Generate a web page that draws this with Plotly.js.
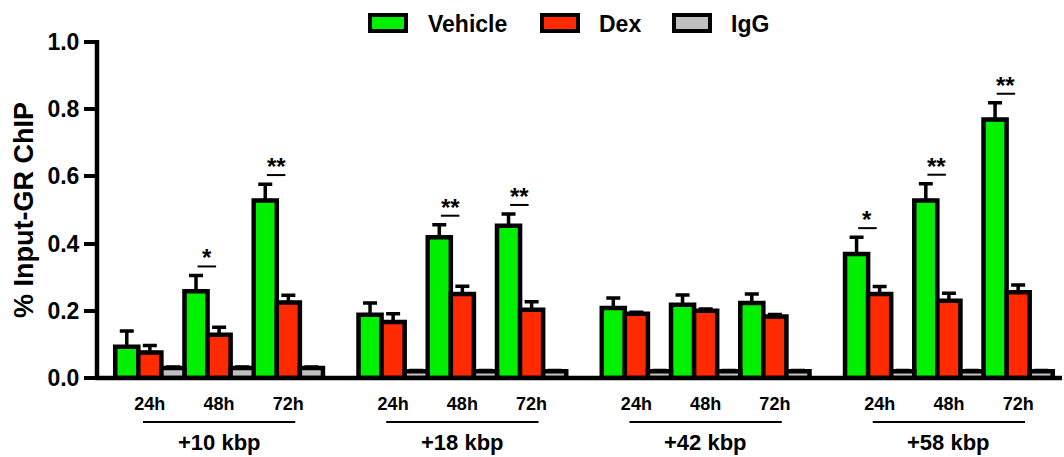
<!DOCTYPE html>
<html>
<head>
<meta charset="utf-8">
<script src="https://cdn.plot.ly/plotly-3.0.1.min.js"></script>
<style>html,body{margin:0;padding:0;background:#fff;}#chart{width:1064px;height:457px;}</style>
</head>
<body>
<div id="chart"></div>
<script>
// ---- data ----
const regions = ['+10 kbp', '+18 kbp', '+42 kbp', '+58 kbp'];
const times = ['24h', '48h', '72h'];
const seriesNames = ['Vehicle', 'Dex', 'IgG'];
const vehicle    = [0.093, 0.258, 0.528, 0.188, 0.419, 0.453, 0.208, 0.218, 0.223, 0.369, 0.528, 0.769];
const vehicleErr = [0.047, 0.047, 0.049, 0.035, 0.037, 0.035, 0.030, 0.029, 0.027, 0.050, 0.050, 0.050];
const dex        = [0.076, 0.129, 0.225, 0.167, 0.250, 0.203, 0.191, 0.200, 0.183, 0.250, 0.230, 0.255];
const dexErr     = [0.021, 0.022, 0.021, 0.024, 0.023, 0.024, 0.005, 0.005, 0.006, 0.022, 0.022, 0.022];
const igg        = [0.030, 0.030, 0.030, 0.020, 0.020, 0.020, 0.020, 0.020, 0.020, 0.020, 0.020, 0.020];
const iggErr     = [0.003, 0.003, 0.003, 0.002, 0.002, 0.002, 0.002, 0.002, 0.002, 0.002, 0.002, 0.002];
const signif     = ['', '*', '**', '', '**', '**', '', '', '', '*', '**', '**'];
const yTicks = [0, 0.2, 0.4, 0.6, 0.8, 1.0];

// ---- styling / layout helpers ----
const FONT = 'Liberation Sans, Arial, Helvetica, sans-serif';
const colors = ['#00F000', '#FF2A00', '#C0C0C0'];
const GROUP_PERIOD = 10.54;   // bar units between region starts
const W = 1064, H = 457;
const M = {l: 97, r: 2, t: 42, b: 79};
const plotW = W - M.l - M.r, plotH = H - M.t - M.b;
const px2paperX = px => (px - M.l) / plotW;
const px2paperY = py => (H - M.b - py) / plotH;

function xPos(i, s) {
  const g = Math.floor(i / times.length), t = i % times.length;
  return g * GROUP_PERIOD + t * 3 + s + 0.5;
}
const idx = vehicle.map((_, i) => i);
const values = [vehicle, dex, igg];
const errs = [vehicleErr, dexErr, iggErr];

const traces = values.map((vals, s) => ({
  type: 'bar',
  name: seriesNames[s],
  x: idx.map(i => xPos(i, s)),
  y: vals,
  width: 1,
  marker: {color: colors[s], line: {color: '#000', width: 4.5}},
  error_y: {type: 'data', symmetric: false, array: errs[s], arrayminus: vals.map(() => 0),
            color: '#000', thickness: 3.5, width: 7},
  hoverinfo: 'x+y'
}));

const shapes = [];
const annotations = [];

// axis lines (paper refs so they are not clipped to the plot area)
shapes.push({type: 'line', xref: 'paper', yref: 'paper', x0: -0.002, x1: 1, y0: 0, y1: 0,
             line: {color: '#000', width: 4.5}, layer: 'above'});
shapes.push({type: 'line', xref: 'paper', yref: 'paper', x0: 0, x1: 0, y0: -0.006, y1: 1.006,
             line: {color: '#000', width: 4.5}, layer: 'above'});

// region underlines and labels
regions.forEach((r, g) => {
  const c = g * GROUP_PERIOD + 4.5;
  shapes.push({type: 'line', xref: 'x', yref: 'paper', x0: c - 3.3, x1: c + 3.3,
               y0: px2paperY(422), y1: px2paperY(422), line: {color: '#000', width: 2}});
  annotations.push({xref: 'x', yref: 'paper', x: c, y: px2paperY(442), text: r, showarrow: false,
                    xanchor: 'center', yanchor: 'middle',
                    font: {family: FONT, size: 22, weight: 'bold', color: '#000'}});
});

// significance markers
signif.forEach((s, i) => {
  if (!s) return;
  const yl = vehicle[i] + vehicleErr[i] + 0.027;
  const x0 = xPos(i, 0) + 0.07, x1 = xPos(i, 1) - 0.13;
  shapes.push({type: 'line', xref: 'x', yref: 'y', x0: x0, x1: x1, y0: yl, y1: yl,
               line: {color: '#000', width: 2}});
  annotations.push({xref: 'x', yref: 'y', x: (x0 + x1) / 2, y: yl, text: s, showarrow: false,
                    xanchor: 'center', yanchor: 'bottom', yshift: -7,
                    font: {family: FONT, size: 24, weight: 'bold', color: '#000'}});
});

// custom legend
const legendItems = [
  {name: seriesNames[0], color: colors[0], x0: 370, x1: 406, tx: 426},
  {name: seriesNames[1], color: colors[1], x0: 542, x1: 578, tx: 597},
  {name: seriesNames[2], color: colors[2], x0: 674, x1: 710, tx: 729}
];
legendItems.forEach(it => {
  shapes.push({type: 'rect', xref: 'paper', yref: 'paper',
               x0: px2paperX(it.x0), x1: px2paperX(it.x1), y0: px2paperY(31), y1: px2paperY(15),
               fillcolor: it.color, line: {color: '#000', width: 4}});
  annotations.push({xref: 'paper', yref: 'paper', x: px2paperX(it.tx), y: px2paperY(23.5),
                    text: it.name, showarrow: false, xanchor: 'left', yanchor: 'middle',
                    font: {family: FONT, size: 23, weight: 'bold', color: '#000'}});
});

// x ticks at cluster centres
const tickVals = idx.map(i => xPos(i, 1));
const tickText = idx.map(i => times[i % times.length]);

const layout = {
  width: W, height: H,
  margin: {l: M.l, r: M.r, t: M.t, b: M.b, pad: 0},
  paper_bgcolor: '#fff', plot_bgcolor: '#fff',
  showlegend: false,
  barmode: 'overlay',
  xaxis: {
    range: [-0.79, 41.02], tickmode: 'array', tickvals: tickVals, ticktext: tickText,
    showline: false, showgrid: false, zeroline: false,
    ticks: 'outside', ticklen: 9, tickcolor: 'rgba(0,0,0,0)',
    tickfont: {family: FONT, size: 18, weight: 'bold', color: '#000'}, fixedrange: true
  },
  yaxis: {
    range: [0, 1], tickmode: 'array', tickvals: yTicks, ticktext: yTicks.map(v => v.toFixed(1)),
    showline: false,
    ticks: 'outside', ticklen: 12, tickwidth: 4, tickcolor: '#000',
    showgrid: false, zeroline: false,
    tickfont: {family: FONT, size: 23, weight: 'bold', color: '#000'},
    title: {text: '% Input-GR ChIP', standoff: 5,
            font: {family: FONT, size: 27, weight: 'bold', color: '#000'}},
    fixedrange: true
  },
  shapes: shapes,
  annotations: annotations
};

Plotly.newPlot('chart', traces, layout, {displayModeBar: false, staticPlot: true});
</script>
</body>
</html>
